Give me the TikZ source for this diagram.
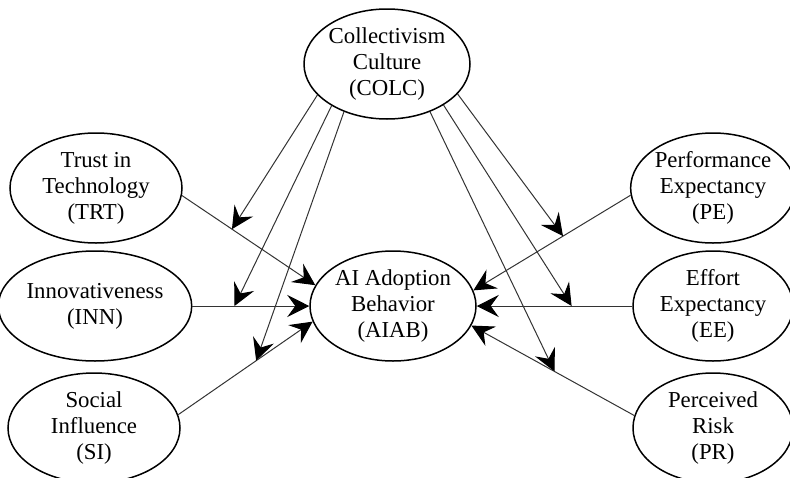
\documentclass[tikz,border=0pt]{standalone}
\usepackage{fontspec}
\setmainfont{Liberation Serif}
\usetikzlibrary{shapes.geometric,arrows.meta}
\begin{document}
\begin{tikzpicture}[x=1pt,y=-1pt,
  var/.style={ellipse,draw=black,line width=1.5pt,inner sep=0pt,align=center,
    minimum width=166pt,minimum height=110pt,
    font=\fontsize{22.8}{26}\selectfont},
  conn/.style={draw=black!80,line width=1pt,
    -{Stealth[length=22pt,width=22pt,inset=8pt,color=black]}}]
\useasboundingbox (0,0) rectangle (790,477);
\clip (0,0) rectangle (790,477);
\node[var] (colc) at (387,64) {Collectivism\\Culture\\(COLC)};
\node[var,minimum width=172pt] (trt) at (96,188) {Trust in\\Technology\\(TRT)};
\node[var,minimum width=170pt] (inn) at (95,306) {Innovativeness\\(INN)};
\node[var,minimum width=172pt] (si) at (94,428) {Social\\Influence\\(SI)};
\node[var] (aiab) at (393,306) {AI Adoption\\Behavior\\(AIAB)};
\node[var,minimum width=160pt] (pe) at (713,188) {Performance\\Expectancy\\(PE)};
\node[var,minimum width=160pt] (ee) at (713,306) {Effort\\Expectancy\\(EE)};
\node[var,minimum width=160pt] (pr) at (713,428) {Perceived\\Risk\\(PR)};

\draw[conn] (trt.-5) -- coordinate[pos=0.375] (mtrt) (aiab.165);
\draw[conn] (inn.east) -- coordinate[pos=0.36] (minn) (aiab.west);
\draw[conn] (si.9) -- coordinate[pos=0.58] (msi) (aiab.191);
\draw[conn] (pe.185) -- coordinate[pos=0.43] (mpe) (aiab.11);
\draw[conn] (ee.west) -- coordinate[pos=0.39] (mee) (aiab.east);
\draw[conn] (pr.171) -- coordinate[pos=0.49] (mpr) (aiab.-14);

\draw[conn] (colc.204) -- (mtrt);
\draw[conn] (colc.217) -- (minn);
\draw[conn] (colc.228) -- (msi);
\draw[conn] (colc.-23) -- (mpe);
\draw[conn] (colc.-36) -- (mee);
\draw[conn] (colc.-48) -- (mpr);
\end{tikzpicture}
\end{document}
